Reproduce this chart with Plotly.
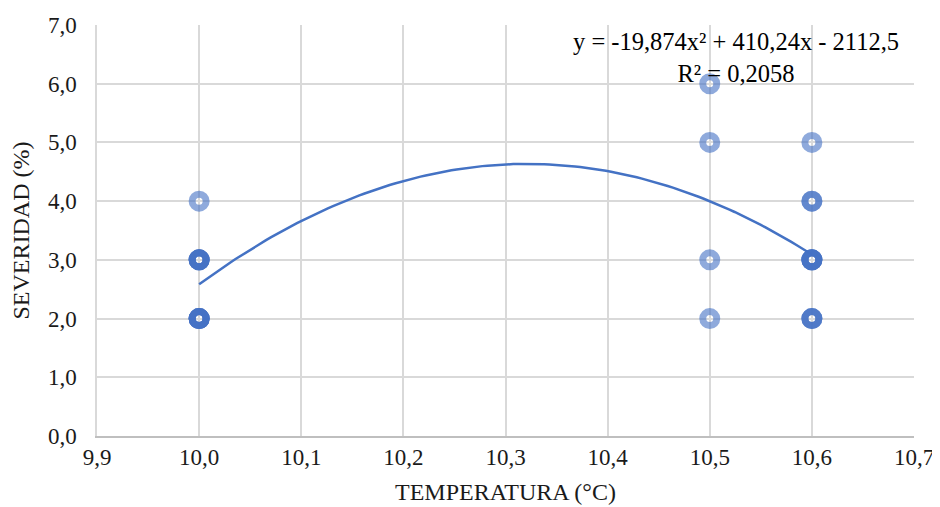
import plotly.graph_objects as go
import numpy as np

# Observations (repeated values are overlapping points)
temperatura = [10.0] * 12 + [10.5] * 4 + [10.6] * 11
severidad = ([4] + [3] * 5 + [2] * 6
             + [6, 5, 3, 2]
             + [5] + [4] * 2 + [3] * 5 + [2] * 3)

x_ticks = [9.9, 10.0, 10.1, 10.2, 10.3, 10.4, 10.5, 10.6, 10.7]
y_ticks = [0, 1, 2, 3, 4, 5, 6, 7]
eq_line1 = "y = -19,874x² + 410,24x - 2112,5"
eq_line2 = "R² = 0,2058"

# Polynomial (order 2) trendline fitted to the observations
coefs = np.polyfit(temperatura, severidad, 2)
trend_x = np.linspace(min(temperatura), max(temperatura), 120)
trend_y = np.polyval(coefs, trend_x)

blue = "#4472C4"
font = "Liberation Serif, Times New Roman, serif"
txt = "#1a1a1a"

fig = go.Figure()
fig.add_trace(go.Scatter(x=trend_x, y=trend_y, mode="lines",
                         line=dict(color=blue, width=2.5), hoverinfo="skip",
                         showlegend=False))
fig.add_trace(go.Scatter(x=temperatura, y=severidad, mode="markers",
                         marker=dict(symbol="circle-open", size=14,
                                     color="rgba(68,114,196,0.6)",
                                     line=dict(width=7)),
                         showlegend=False))

fig.add_annotation(xref="paper", yref="paper", x=0.782, y=0.921,
                   text=eq_line1 + "<br>" + eq_line2, showarrow=False,
                   xanchor="center", yanchor="middle", align="center",
                   font=dict(family=font, size=24.5, color="#000"))

fig.update_layout(
    width=932, height=499,
    margin=dict(l=89, r=26, t=17, b=71),
    paper_bgcolor="white", plot_bgcolor="white",
    separators=", ",
    font=dict(family=font, size=23, color=txt),
    xaxis=dict(range=[9.9, 10.7], tickvals=x_ticks, tickformat=".1f",
               automargin=False,
               showgrid=True, gridcolor="#d9d9d9", gridwidth=1.5,
               zeroline=False, showline=True, linecolor="#bfbfbf", linewidth=1.5,
               title=dict(text="TEMPERATURA (°C)", font=dict(size=24, color=txt),
                          standoff=14),
               tickfont=dict(size=23, color=txt)),
    yaxis=dict(range=[0, 7], tickvals=y_ticks, tickformat=".1f",
               automargin=False, ticklabelstandoff=14,
               showgrid=True, gridcolor="#d9d9d9", gridwidth=1.5,
               zeroline=False, showline=True, linecolor="#d9d9d9", linewidth=1.5,
               title=dict(text="SEVERIDAD (%)", font=dict(size=24, color=txt),
                          standoff=14),
               tickfont=dict(size=23, color=txt)),
)

fig.write_html("out.html")
